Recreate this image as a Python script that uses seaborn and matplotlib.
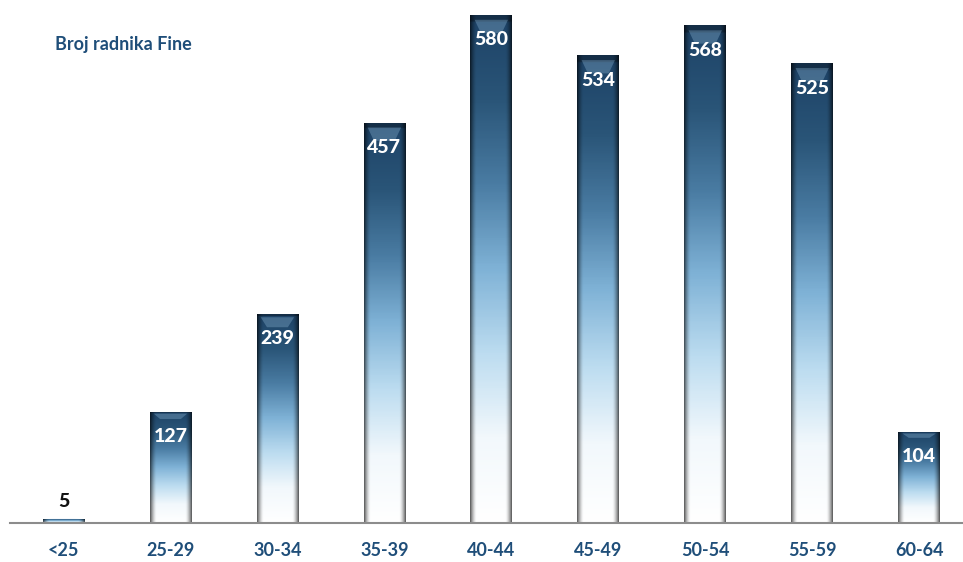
import numpy as np
import pandas as pd
import matplotlib
matplotlib.use('Agg')
import matplotlib.pyplot as plt
import seaborn as sns
from matplotlib.colors import LinearSegmentedColormap

# broj radnika po dobnim skupinama
groups = ['<25', '25-29', '30-34', '35-39', '40-44', '45-49', '50-54', '55-59', '60-64']
workers = [5, 127, 239, 457, 580, 534, 568, 525, 104]
title = 'Broj radnika Fine'

df = pd.DataFrame({'group': groups, 'workers': workers})

sns.set_style('white')
plt.rcParams['font.family'] = ['Lato', 'DejaVu Sans']

fig = plt.figure(figsize=(9.63, 5.62), dpi=100)
ax = fig.add_axes([0.0104, 0.0694, 0.9896, 0.9306])

ax = sns.barplot(data=df, x='group', y='workers', color='#4a7fa8', width=0.39, ax=ax)

# gradient: dark blue on top, white at the bottom, darker sides
grad = LinearSegmentedColormap.from_list(
    'fina', ['#ffffff', '#f2f8fc', '#bcdcf0', '#7fb2d6', '#4a7ca3', '#2a5578', '#1d4266'])
ny, nx = 200, 40
t = np.linspace(0, 1, ny)[:, None]
u = np.linspace(-1, 1, nx)[None, :]
base = grad(np.repeat(t, nx, axis=1))
shade = 1 - 0.6 * np.clip((np.abs(u) - 0.7) / 0.3, 0, 1) ** 1.5
img = base.copy()
img[..., :3] = base[..., :3] * shade[..., None]
rim = t[:, 0] > 0.985
img[rim, :, :3] = img[rim, :, :3] * 0.7

for p in ax.patches:
    x, w, h = p.get_x(), p.get_width(), p.get_height()
    if h <= 0:
        continue
    p.set_facecolor('none')
    p.set_edgecolor('none')
    im = ax.imshow(img, extent=[x, x + w, 0, h], origin='lower', aspect='auto', zorder=2)
    im.set_clip_path(p)
    # lighter bevel just below the top edge
    cap = min(h * 0.05, 16)
    ax.fill([x + w * 0.1, x + w * 0.9, x + w * 0.75, x + w * 0.25],
            [h - cap * 0.35, h - cap * 0.35, h - cap * 1.3, h - cap * 1.3],
            color='#8fb8d6', alpha=0.35, lw=0, zorder=3)

ax.set_xlim(-0.5, 8.41)
ax.set_ylim(0, 597)

for i, v in enumerate(workers):
    if v < 50:
        ax.annotate(str(v), (i, v), xytext=(0, 12), textcoords='offset points',
                    ha='center', va='center', fontsize=14, fontweight='black', color='#111111')
    else:
        ax.annotate(str(v), (i, v), xytext=(0, -18), textcoords='offset points',
                    ha='center', va='center', fontsize=14, fontweight='black', color='white',
                    zorder=5)

ax.text(0.057, 0.92, title, transform=fig.transFigure, fontsize=13, fontweight='bold',
        color='#1f4e79', ha='left', va='center')

sns.despine(ax=ax, left=True, top=True, right=True)
ax.spines['bottom'].set_color('#8c8c8c')
ax.spines['bottom'].set_linewidth(1.5)
ax.set_xlabel('')
ax.set_ylabel('')
ax.set_yticks([])
ax.tick_params(axis='x', length=0, pad=14, labelsize=13, labelcolor='#1f4e79')
for lab in ax.get_xticklabels():
    lab.set_fontweight('bold')

plt.savefig('out.png', dpi=100)
